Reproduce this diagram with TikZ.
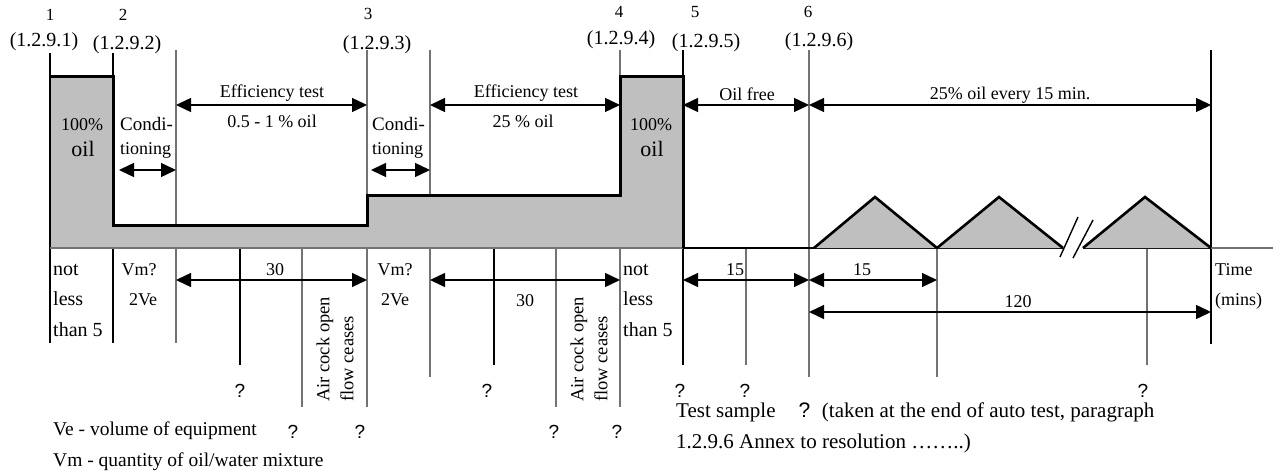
\documentclass[tikz,border=0pt]{standalone}
\usepackage{fontspec}
\setmainfont{Liberation Serif}
\newfontfamily\qfont{Liberation Sans}
\usetikzlibrary{arrows.meta}
\begin{document}
\begin{tikzpicture}[x=1pt,y=-1pt,
  gl/.style={line width=1.6pt, black!55},
  bl/.style={line width=1.6pt, black},
  outl/.style={line width=3pt, black, line join=miter},
  dimarrow/.style={line width=1.4pt, {Triangle[length=15pt,width=14pt]}-{Triangle[length=15pt,width=14pt]}},
  txt/.style={font=\fontsize{18}{20}\selectfont, anchor=base, inner sep=0pt},
  txtl/.style={txt, anchor=base west},
  wide/.style={font=\fontsize{20}{22}\selectfont, anchor=base west, inner sep=0pt},
  small/.style={font=\fontsize{17}{18}\selectfont, anchor=base, inner sep=0pt},
  sect/.style={font=\fontsize{20}{22}\selectfont, anchor=base, inner sep=0pt},
  big/.style={font=\fontsize{22}{24}\selectfont, anchor=base, inner sep=0pt},
  note/.style={font=\fontsize{19.5}{22}\selectfont, anchor=base west, inner sep=0pt},
  noteb/.style={font=\fontsize{21}{22}\selectfont, anchor=base west, inner sep=0pt},
  qm/.style={font=\qfont\fontsize{19}{20}\selectfont, anchor=base, inner sep=0pt}]
\useasboundingbox (0,0) rectangle (1281,473);
% ---- named coordinates ----
\coordinate (v1t) at (50,53);   \coordinate (v1b) at (50,343);
\coordinate (v2t) at (113,53);  \coordinate (v2b) at (113,343);
\coordinate (c1t) at (176,50);  \coordinate (c1b) at (176,343);
\coordinate (a1t) at (240,248); \coordinate (a1b) at (240,365);
\coordinate (b1t) at (302,248); \coordinate (b1b) at (302,407);
\coordinate (v3t) at (367,50);  \coordinate (v3b) at (367,407);
\coordinate (c2t) at (430,50);  \coordinate (c2b) at (430,377);
\coordinate (a2t) at (494,248); \coordinate (a2b) at (494,365);
\coordinate (b2t) at (556,248); \coordinate (b2b) at (556,407);
\coordinate (v4t) at (620,50);  \coordinate (v4b) at (620,407);
\coordinate (v5t) at (683,50);  \coordinate (v5b) at (683,365);
\coordinate (f1t) at (746,248); \coordinate (f1b) at (746,365);
\coordinate (v6t) at (809,50);  \coordinate (v6b) at (809,377);
\coordinate (g1t) at (937,248); \coordinate (g1b) at (937,377);
\coordinate (h1t) at (1147,248);\coordinate (h1b) at (1147,365);
\coordinate (v7t) at (1211,50); \coordinate (v7b) at (1211,344);
% ---- vertical lines ----
\draw[bl] (v1t) -- (v1b);
\draw[bl] (v2t) -- (v2b);
\draw[gl] (c1t) -- (c1b);
\draw[bl] (a1t) -- (a1b);
\draw[gl] (b1t) -- (b1b);
\draw[gl] (v3t) -- (v3b);
\draw[gl] (c2t) -- (c2b);
\draw[bl] (a2t) -- (a2b);
\draw[gl] (b2t) -- (b2b);
\draw[gl] (v4t) -- (v4b);
\draw[bl] (v5t) -- (v5b);
\draw[gl] (f1t) -- (f1b);
\draw[gl] (v6t) -- (v6b);
\draw[gl] (g1t) -- (g1b);
\draw[gl] (h1t) -- (h1b);
\draw[bl] (v7t) -- (v7b);
% ---- oil content profile ----
\fill[black!25] (50,77) -- (113,77) -- (113,225) -- (367,225) -- (367,195) -- (620,195) -- (620,77) -- (683,77) -- (683,248) -- (50,248) -- cycle;
\draw[bl] (50,77) -- (50,248);
\draw[line width=1.6pt, black!55] (50,248) -- (683,248);
\draw[outl] (50,77) -- (113,77) -- (113,225) -- (367,225) -- (367,195) -- (620,195) -- (620,77) -- (683,77) -- (683,248);
\draw[line width=2pt] (683,248) -- (1063,248);
\draw[line width=2pt] (1083,248) -- (1211,248);
\draw[line width=1.6pt, black!55] (1211,248) -- (1273,248);
% triangles
\draw[fill=black!25, line width=2.6pt, line join=miter] (814,248) -- (875,197) -- (937,248);
\draw[fill=black!25, line width=2.6pt, line join=miter] (937,248) -- (999,197) -- (1063,248);
\draw[fill=black!25, line width=2.6pt, line join=miter] (1083,248) -- (1145,197) -- (1211,248);
\draw[line width=1.4pt] (1060,257) -- (1078,217);
\draw[line width=1.4pt] (1073,258) -- (1093,220);
% ---- dimension arrows ----
\coordinate (e1l) at (176,105); \coordinate (e1r) at (367,105);
\coordinate (e2l) at (430,105); \coordinate (e2r) at (620,105);
\coordinate (ofl) at (683,105); \coordinate (ofr) at (809,105);
\coordinate (evl) at (809,105); \coordinate (evr) at (1211,105);
\coordinate (k1l) at (119,170); \coordinate (k1r) at (176,170);
\coordinate (k2l) at (371,170); \coordinate (k2r) at (430,170);
\coordinate (d1l) at (176,280); \coordinate (d1r) at (367,280);
\coordinate (d2l) at (430,280); \coordinate (d2r) at (620,280);
\coordinate (d3l) at (683,280); \coordinate (d3r) at (809,280);
\coordinate (d4l) at (809,280); \coordinate (d4r) at (937,280);
\coordinate (d5l) at (809,312); \coordinate (d5r) at (1211,312);
\draw[dimarrow] (e1l) -- (e1r);
\draw[dimarrow] (e2l) -- (e2r);
\draw[dimarrow] (ofl) -- (ofr);
\draw[dimarrow] (evl) -- (evr);
\draw[dimarrow] (k1l) -- (k1r);
\draw[dimarrow] (k2l) -- (k2r);
\draw[dimarrow] (d1l) -- (d1r);
\draw[dimarrow] (d2l) -- (d2r);
\draw[dimarrow] (d3l) -- (d3r);
\draw[dimarrow] (d4l) -- (d4r);
\draw[dimarrow] (d5l) -- (d5r);
% ---- top labels ----
\node[small] (n1) at (50,21) {1};
\node[small] (n2) at (123,21) {2};
\node[small] (n3) at (368,20) {3};
\node[small] (n4) at (619,18) {4};
\node[small] (n5) at (695,18) {5};
\node[small] (n6) at (808,18) {6};
\node[sect] (p1) at (44,47) {(1.2.9.1)};
\node[sect] (p2) at (127,50) {(1.2.9.2)};
\node[sect] (p3) at (377,50) {(1.2.9.3)};
\node[sect] (p4) at (621,45) {(1.2.9.4)};
\node[sect] (p5) at (706,48) {(1.2.9.5)};
\node[sect] (p6) at (819,47) {(1.2.9.6)};
% ---- texts in upper region ----
\node[txt] (o1a) at (82,131) {100\%};
\node[big] (o1b) at (83,157) {oil};
\node[txt] (o2a) at (651,131) {100\%};
\node[big] (o2b) at (652,157) {oil};
\node[txtl, font=\fontsize{19}{20}\selectfont] (cd1a) at (120,131) {Condi-};
\node[txtl] (cd1b) at (120,155) {tioning};
\node[txtl, font=\fontsize{19}{20}\selectfont] (cd2a) at (372,131) {Condi-};
\node[txtl] (cd2b) at (372,155) {tioning};
\node[txt] (ef1) at (272,98) {Efficiency test};
\node[txt] (ef1b) at (272,128) {0.5 - 1 \% oil};
\node[txt] (ef2) at (526,98) {Efficiency test};
\node[txt] (ef2b) at (523,128) {25 \% oil};
\node[txt] (of) at (747,101) {Oil free};
\node[txt] (ev) at (1010,100) {25\% oil every 15 min.};
% ---- texts in lower region ----
\node[wide] (nl1) at (53,275) {not};
\node[wide] (nl2) at (53,305) {less};
\node[wide] (nl3) at (53,336) {than 5};
\node[txt] (vm1) at (139,275) {Vm?};
\node[txt] (ve1) at (143,305) {2Ve};
\node[txt] (vm2) at (395,275) {Vm?};
\node[txt] (ve2) at (395,305) {2Ve};
\node[wide] (nl4) at (623,275) {not};
\node[wide] (nl5) at (623,305) {less};
\node[wide] (nl6) at (623,336) {than 5};
\node[txt] (t30a) at (275,275) {30};
\node[txt] (t30b) at (525,306) {30};
\node[txt] (t15a) at (735,275) {15};
\node[txt] (t15b) at (862,275) {15};
\node[txt] (t120) at (1018,307) {120};
\node[txtl] (tm1) at (1215,275) {Time};
\node[txtl] (tm2) at (1215,305) {(mins)};
\node[txt, rotate=90, anchor=west, align=left, font=\fontsize{18.5}{24}\selectfont] (ac1) at (335,402) {Air cock open\\flow ceases};
\node[txt, rotate=90, anchor=west, align=left, font=\fontsize{18.5}{24}\selectfont] (ac2) at (589,402) {Air cock open\\flow ceases};
% question marks
\node[qm] (q1) at (240,397) {?};
\node[qm] (q2) at (293,438) {?};
\node[qm] (q3) at (360,438) {?};
\node[qm] (q4) at (487,397) {?};
\node[qm] (q5) at (554,438) {?};
\node[qm] (q6) at (617,438) {?};
\node[qm] (q7) at (680,397) {?};
\node[qm] (q8) at (745,397) {?};
\node[qm] (q9) at (1143,397) {?};
% notes
\node[note] (nv1) at (53,435) {Ve - volume of equipment};
\node[note] (nv2) at (53,466) {Vm - quantity of oil/water mixture};
\node[noteb] (ts1) at (676,417) {Test sample\hspace{1.1em}{\qfont ?}\hspace{0.55em}(taken at the end of auto test, paragraph};
\node[noteb] (ts2) at (676,448) {1.2.9.6 Annex to resolution \dots\dots..)};
\end{tikzpicture}
\end{document}
